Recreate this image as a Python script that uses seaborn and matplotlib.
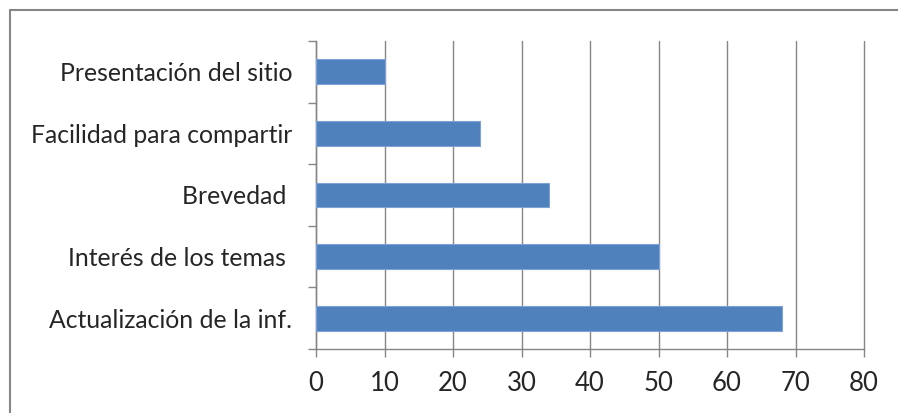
import matplotlib
matplotlib.use("Agg")
import matplotlib.pyplot as plt
from matplotlib.lines import Line2D
import seaborn as sns
import pandas as pd

categories = [
    "Presentación del sitio",
    "Facilidad para compartir",
    "Brevedad ",
    "Interés de los temas ",
    "Actualización de la inf.",
]
values = [10, 24, 34, 50, 68]
x_ticks = [0, 10, 20, 30, 40, 50, 60, 70, 80]

sns.set_theme(style="white")
plt.rcParams["font.family"] = ["Lato", "DejaVu Sans"]

grey = "#868686"
bar_color = "#4F81BD"

df = pd.DataFrame({"categoria": categories, "valor": values})

fig = plt.figure(figsize=(8.98, 4.13), dpi=100)
ax = fig.add_axes([316 / 898, 1 - 349 / 413, (864 - 316) / 898, (349 - 41) / 413])

sns.barplot(data=df, y="categoria", x="valor", order=categories, orient="h",
            color=bar_color, width=0.4, saturation=1, edgecolor="#7DA3D6",
            linewidth=0.8, ax=ax, zorder=3)

ax.set_xlim(0, 80)
ax.set_ylim(len(categories) - 0.5, -0.5)
ax.set_xticks(x_ticks)
ax.set_xticklabels([str(t) for t in x_ticks], fontsize=18.5)
ax.set_xlabel("")
ax.set_ylabel("")

# category labels on minor ticks, tick marks at the category boundaries
ax.set_yticks([i - 0.5 for i in range(len(categories) + 1)])
ax.set_yticklabels([])
ax.set_yticks(list(range(len(categories))), minor=True)
ax.set_yticklabels(categories, minor=True, fontsize=17.8)
ax.tick_params(axis="y", which="minor", length=0, pad=17)
ax.tick_params(axis="y", which="major", length=6, width=1, color=grey, direction="out", left=True)
ax.tick_params(axis="x", which="major", length=6, width=1, color=grey, direction="out", bottom=True, pad=10)

ax.grid(axis="x", color=grey, linewidth=1, zorder=0)
for gl in ax.get_xgridlines():
    gl.set_clip_on(False)
ax.set_axisbelow(True)
for side in ["top", "right"]:
    ax.spines[side].set_visible(False)
for side in ["left", "bottom"]:
    ax.spines[side].set_color(grey)
    ax.spines[side].set_linewidth(1)

# chart area border (top and left edges)
fig.add_artist(Line2D([10 / 898, 10 / 898], [0, 1 - 10 / 413], transform=fig.transFigure,
                      color=grey, linewidth=1.5))
fig.add_artist(Line2D([10 / 898, 1], [1 - 10 / 413, 1 - 10 / 413], transform=fig.transFigure,
                      color=grey, linewidth=1.5))

fig.savefig("out.png", dpi=100)
